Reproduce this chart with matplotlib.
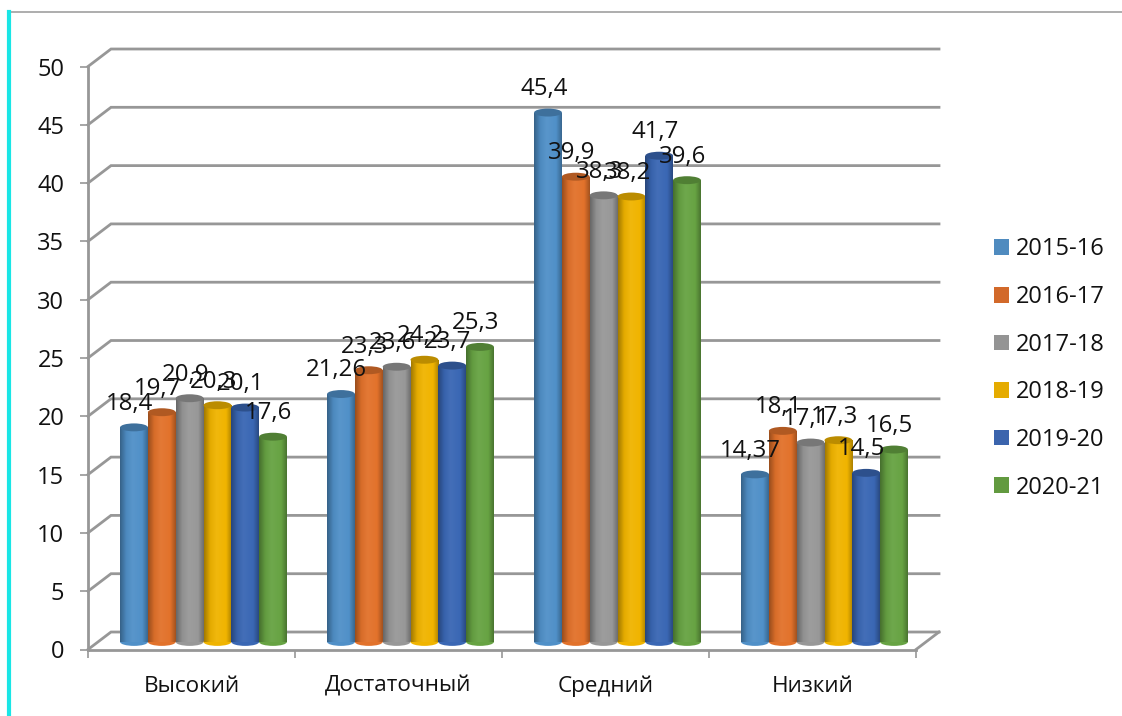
import numpy as np
import matplotlib
matplotlib.use("Agg")
import matplotlib.pyplot as plt
from matplotlib.colors import LinearSegmentedColormap, to_rgb
from matplotlib.lines import Line2D
from matplotlib.patches import Ellipse, Patch, Rectangle

plt.rcParams['font.family'] = ['Open Sans', 'DejaVu Sans']

categories = ['Высокий', 'Достаточный', 'Средний', 'Низкий']
seasons = ['2015-16', '2016-17', '2017-18', '2018-19', '2019-20', '2020-21']
values_1516 = [18.4, 21.26, 45.4, 14.37]
values_1617 = [19.7, 23.3, 39.9, 18.1]
values_1718 = [20.9, 23.6, 38.3, 17.1]
values_1819 = [20.3, 24.2, 38.2, 17.3]
values_1920 = [20.1, 23.7, 41.7, 14.5]
values_2021 = [17.6, 25.3, 39.6, 16.5]
series = [values_1516, values_1617, values_1718, values_1819, values_1920, values_2021]
colors = ['#5090C8', '#E2722B', '#989898', '#F0B400', '#3A67B4', '#67A343']
legend_colors = ['#4F8BBF', '#D2692A', '#949494', '#E5AB00', '#3B64AD', '#629A3F']
yticks = list(range(0, 51, 5))

W, H = 1122, 716
GRID = '#979797'
# depth of the fake 3d box, in data units
DEPTH_X = 23 / 207
DEPTH_Y = 1.5
BAR_DX = 12 / 207
BAR_DY = 0.65
BAR_W = 27.8 / 207
CAP_H = 0.68


def shade(col, f):
    return tuple(c * f for c in to_rgb(col))


def lighten(col, f):
    return tuple(c + (1 - c) * f for c in to_rgb(col))


fig = plt.figure(figsize=(W / 100, H / 100), dpi=100)
ax = fig.add_axes([88 / W, 1 - 649.5 / H, 828 / W, 583 / H])

# walls
for v in yticks:
    ax.plot([0, DEPTH_X, 4 + DEPTH_X], [v, v + DEPTH_Y, v + DEPTH_Y], color=GRID, lw=2,
            clip_on=False, zorder=1, solid_joinstyle='miter')
ax.plot([4, 4 + DEPTH_X], [0, DEPTH_Y], color=GRID, lw=2, clip_on=False, zorder=1)

# cylinders
for s, vals in enumerate(series):
    col = colors[s]
    stops = [(0, shade(col, 0.68)), (0.22, shade(col, 0.95)), (0.45, lighten(col, 0.05)),
             (0.8, col), (1, shade(col, 0.72))]
    cmap = LinearSegmentedColormap.from_list('c', stops)
    for i, v in enumerate(vals):
        x0 = i + (1 - 6 * BAR_W) / 2 + BAR_DX + s * BAR_W
        x1 = x0 + BAR_W
        y0 = BAR_DY
        y1 = v + BAR_DY
        z = 3 + s * 0.1
        ax.add_patch(Ellipse(((x0 + x1) / 2, y0), BAR_W, CAP_H, fc=col, ec='none', zorder=z))
        im = ax.imshow(np.linspace(0, 1, 64)[None, :], cmap=cmap, extent=(x0, x1, y0, y1),
                       aspect='auto', zorder=z, interpolation='bilinear')
        clip = Rectangle((x0, y0 - CAP_H), BAR_W, v + CAP_H, transform=ax.transData)
        im.set_clip_path(clip)
        ax.add_patch(Ellipse(((x0 + x1) / 2, y1), BAR_W, CAP_H, fc=shade(col, 0.78), ec='none', zorder=z + 0.01))
        ax.annotate(f'{v}'.replace('.', ','), ((x0 + x1) / 2, y1), xytext=(-3, 17), textcoords='offset points',
                    ha='center', va='center', fontsize=17.3, color='#111111', zorder=10, annotation_clip=False)

ax.set_xlim(0, 4)
ax.set_ylim(0, 50)
for side in ['top', 'right']:
    ax.spines[side].set_visible(False)
for side in ['left', 'bottom']:
    ax.spines[side].set_color(GRID)
    ax.spines[side].set_linewidth(2)
    ax.spines[side].set_zorder(2)

ax.set_yticks(yticks)
ax.set_xticks([0, 1, 2, 3, 4])
ax.set_xticklabels([])
ax.set_xticks([0.5, 1.5, 2.5, 3.5], minor=True)
ax.set_xticklabels(categories, minor=True)
ax.tick_params(axis='x', which='major', length=6, width=1.2, color=GRID)
ax.tick_params(axis='x', which='minor', length=0, pad=19, labelsize=16.2, labelcolor='#111111')
ax.tick_params(axis='y', length=6, width=1.2, color=GRID, pad=11, labelsize=17, labelcolor='#111111')

handles = [Patch(fc=c, ec='none') for c in legend_colors]
ax.legend(handles, seasons, loc='center left', bbox_to_anchor=(994 / W, 1 - 368.5 / H),
          bbox_transform=fig.transFigure, frameon=False, fontsize=17, handlelength=0.63, handleheight=0.63,
          handletextpad=0.3, labelspacing=1.0, borderpad=0, borderaxespad=0, labelcolor='#111111')

# frame of the pasted picture
fig.add_artist(Line2D([10 / W, 1], [1 - 12 / H, 1 - 12 / H], color='#A0A0A0', lw=1.2))
fig.add_artist(Line2D([9 / W, 9 / W], [0, 1 - 12 / H], color='#19E6E6', lw=3))

fig.savefig('out.png', dpi=100)
